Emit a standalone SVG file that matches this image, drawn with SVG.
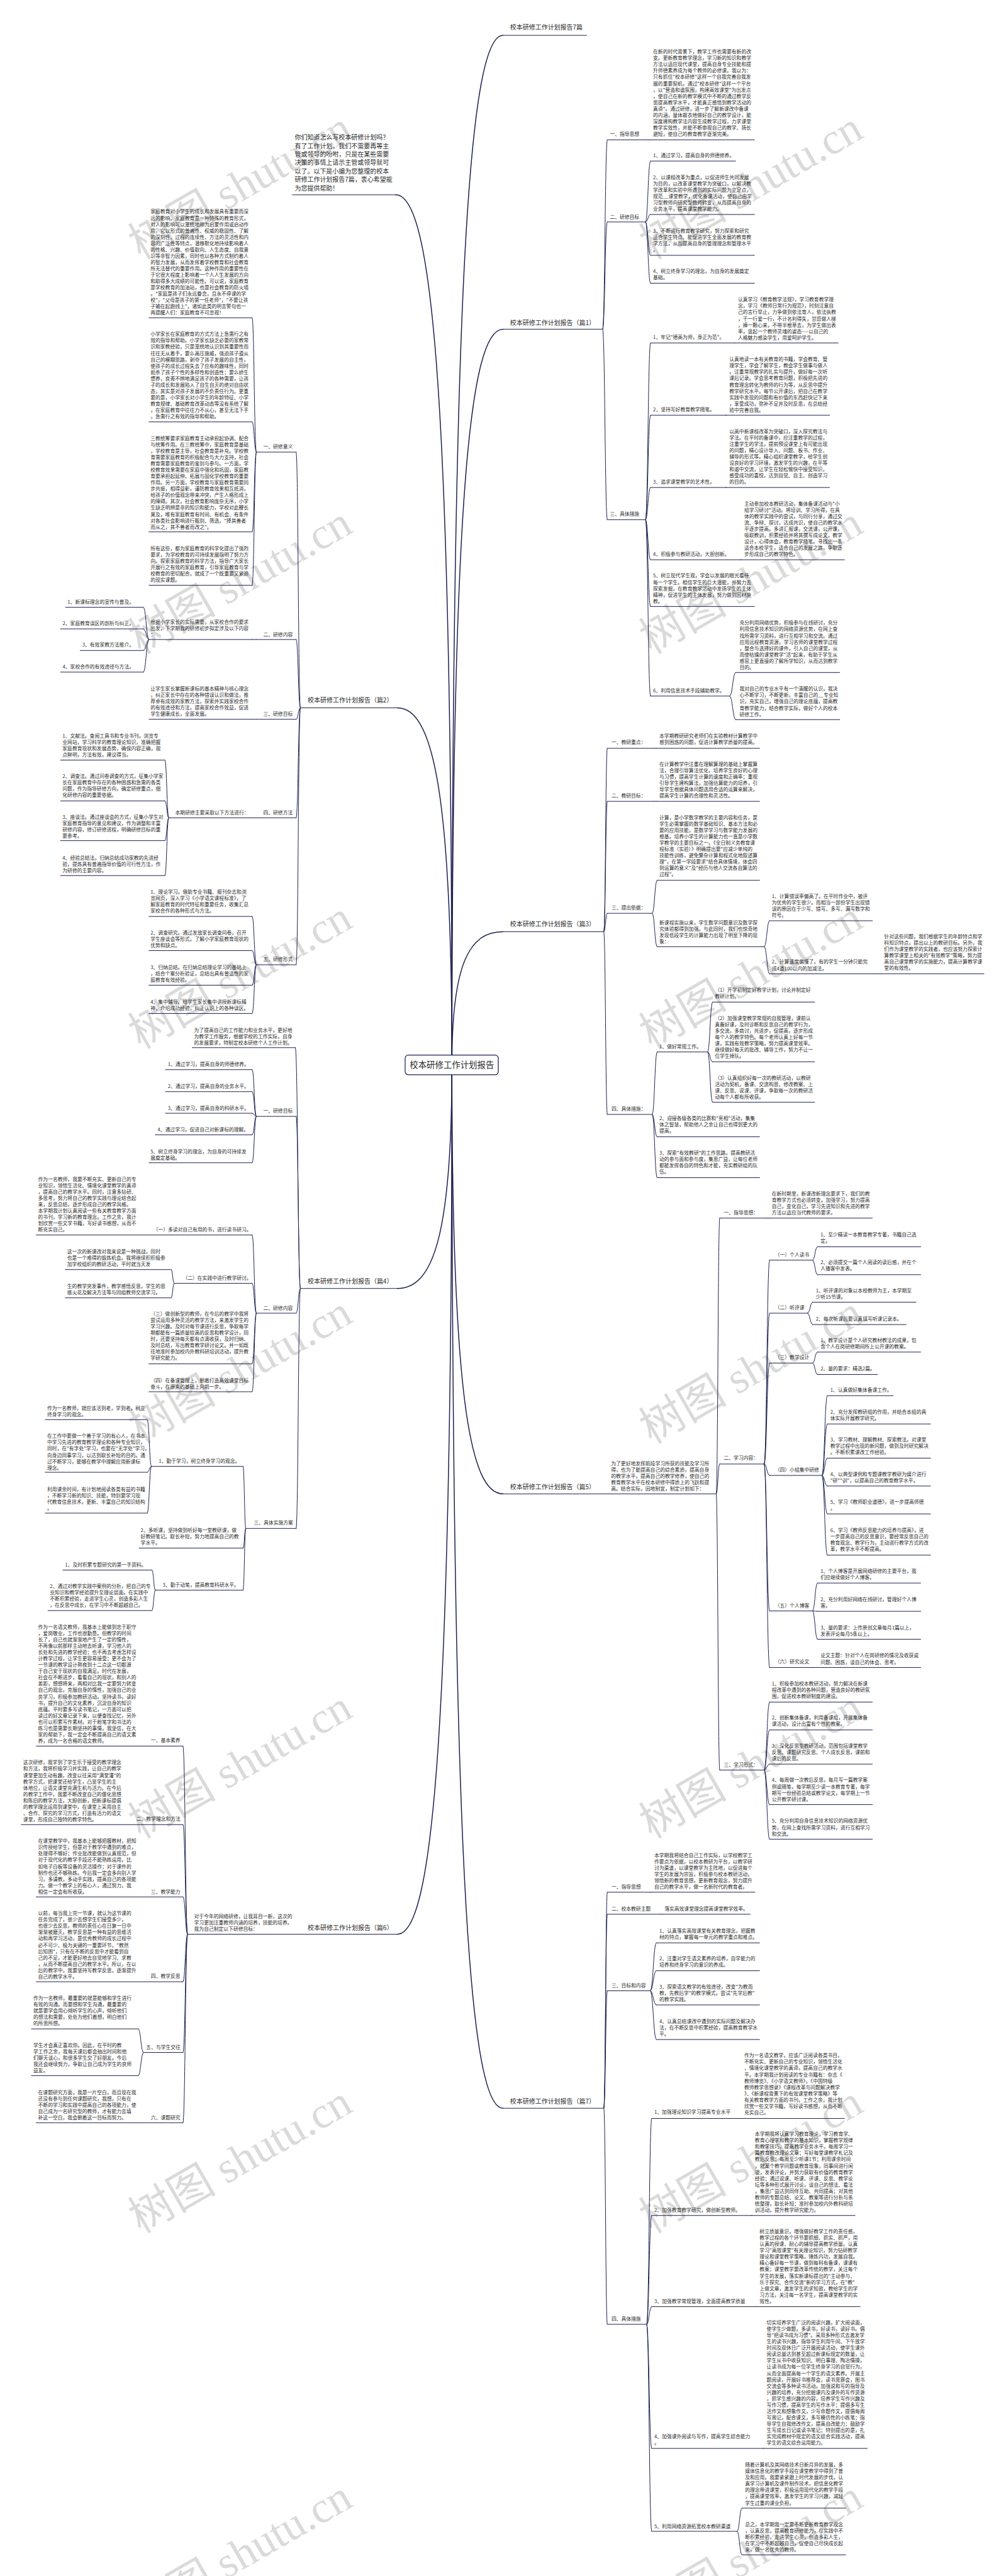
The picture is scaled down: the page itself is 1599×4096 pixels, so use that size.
<svg xmlns="http://www.w3.org/2000/svg" width="1599" height="4096" viewBox="0 0 1599 4096">
<style>
.t{font-family:"Noto Sans CJK SC","Noto Sans",sans-serif;font-size:12.5px;fill:#2b2b2b}
.h{font-size:16px}
.e{text-anchor:end}
.u,.c{stroke:#1d2150;stroke-width:1.6;fill:none;stroke-linecap:round}
.rc{stroke-width:2.4}
.wm{font-family:"Liberation Serif","Noto Sans CJK SC",serif;font-size:112px;fill:#dadada;text-anchor:middle}
</style>
<rect width="1599" height="4096" fill="#fff"/>
<g transform="scale(0.6246)">
<g id="watermarks">
<text class="wm" transform="translate(630 505) rotate(-30)">树图 shutu.cn</text>
<text class="wm" transform="translate(1930 505) rotate(-30)">树图 shutu.cn</text>
<text class="wm" transform="translate(630 1510) rotate(-30)">树图 shutu.cn</text>
<text class="wm" transform="translate(1930 1510) rotate(-30)">树图 shutu.cn</text>
<text class="wm" transform="translate(630 2515) rotate(-30)">树图 shutu.cn</text>
<text class="wm" transform="translate(1930 2515) rotate(-30)">树图 shutu.cn</text>
<text class="wm" transform="translate(630 3520) rotate(-30)">树图 shutu.cn</text>
<text class="wm" transform="translate(1930 3520) rotate(-30)">树图 shutu.cn</text>
<text class="wm" transform="translate(630 4525) rotate(-30)">树图 shutu.cn</text>
<text class="wm" transform="translate(1930 4525) rotate(-30)">树图 shutu.cn</text>
<text class="wm" transform="translate(630 5530) rotate(-30)">树图 shutu.cn</text>
<text class="wm" transform="translate(1930 5530) rotate(-30)">树图 shutu.cn</text>
<text class="wm" transform="translate(630 6535) rotate(-30)">树图 shutu.cn</text>
<text class="wm" transform="translate(1930 6535) rotate(-30)">树图 shutu.cn</text>
</g>
<g id="connectors">
<path class="c rc" d="M1280 90 C1195.5 90 1150 693 1150 2711"/>
<path class="c rc" d="M1280 838 C1195.5 838 1150 1269 1150 2711"/>
<path class="c rc" d="M1280 2372 C1195.5 2372 1150 2450 1150 2711"/>
<path class="c rc" d="M1280 3803 C1195.5 3803 1150 3552 1150 2711"/>
<path class="c rc" d="M1280 5367 C1195.5 5367 1150 4756 1150 2711"/>
<path class="c rc" d="M1007 496 C1100 496 1150 1005 1150 2711"/>
<path class="c rc" d="M1011 1802 C1101 1802 1150 2011 1150 2711"/>
<path class="c rc" d="M1011 3280 C1101 3280 1150 3149 1150 2711"/>
<path class="c rc" d="M1011 4924 C1101 4924 1150 4415 1150 2711"/>
<path class="c" d="M1534 838 C1539.5 838 1539.5 356 1545 356M1534 838 C1539.5 838 1539.5 565 1545 565M1534 838 C1539.5 838 1539.5 1323 1545 1323"/>
<path class="c" d="M1643 356 L1655 356"/>
<path class="c" d="M1643 565 C1649 565 1649 410 1655 410M1643 565 C1649 565 1649 546 1655 546M1643 565 C1649 565 1649 650 1655 650M1643 565 C1649 565 1649 721 1655 721"/>
<path class="c" d="M1643 1323 C1649 1323 1649 873 1655 873M1643 1323 C1649 1323 1649 1057 1655 1057M1643 1323 C1649 1323 1649 1241 1655 1241M1643 1323 C1649 1323 1649 1425 1655 1425M1643 1323 C1649 1323 1649 1544 1655 1544M1643 1323 C1649 1323 1649 1772 1655 1772"/>
<path class="c" d="M1868 873 L1870 873M1846 1057 L1848 1057M1846 1241 L1848 1241M1884 1425 L1886 1425"/>
<path class="c" d="M1857 1772 C1864.5 1772 1864.5 1712 1872 1712M1857 1772 C1864.5 1772 1864.5 1832 1872 1832"/>
<path class="c" d="M1537 2372 C1541 2372 1541 1905 1545 1905M1537 2372 C1541 2372 1541 2040 1545 2040M1537 2372 C1541 2372 1541 2325 1545 2325M1537 2372 C1541 2372 1541 2837 1545 2837"/>
<path class="c" d="M1664 1905 L1670 1905M1664 2040 L1670 2040"/>
<path class="c" d="M1660 2325 C1666 2325 1666 2241 1672 2241M1660 2325 C1666 2325 1666 2410 1672 2410"/>
<path class="c" d="M1945 2410 C1951.5 2410 1951.5 2344 1958 2344M1945 2410 C1951.5 2410 1951.5 2479 1958 2479M2227 2479 L2240 2479"/>
<path class="c" d="M1660 2837 C1666 2837 1666 2678 1672 2678M1660 2837 C1666 2837 1666 2894 1672 2894M1660 2837 C1666 2837 1666 2998 1672 2998"/>
<path class="c" d="M1801 2678 C1807 2678 1807 2551 1813 2551M1801 2678 C1807 2678 1807 2703 1813 2703M1801 2678 C1807 2678 1807 2806 1813 2806"/>
<path class="c" d="M1545 3803 L1549 3803"/>
<path class="c" d="M1823 3803 C1827 3803 1827 3101 1831 3101M1823 3803 C1827 3803 1827 3727 1831 3727M1823 3803 C1827 3803 1827 4506 1831 4506"/>
<path class="c" d="M1949 3101 L1958 3101"/>
<path class="c" d="M1945 3727 C1951.5 3727 1951.5 3208 1958 3208M1945 3727 C1951.5 3727 1951.5 3343 1958 3343M1945 3727 C1951.5 3727 1951.5 3470 1958 3470M1945 3727 C1951.5 3727 1951.5 3756 1958 3756M1945 3727 C1951.5 3727 1951.5 4101 1958 4101M1945 3727 C1951.5 3727 1951.5 4245 1958 4245"/>
<path class="c" d="M2068 3208 C2074 3208 2074 3174 2080 3174M2068 3208 C2074 3208 2074 3245 2080 3245"/>
<path class="c" d="M2055 3343 C2061.5 3343 2061.5 3315 2068 3315M2055 3343 C2061.5 3343 2061.5 3372 2068 3372"/>
<path class="c" d="M2068 3470 C2074 3470 2074 3442 2080 3442M2068 3470 C2074 3470 2074 3499 2080 3499"/>
<path class="c" d="M2092 3756 C2098.5 3756 2098.5 3553 2105 3553M2092 3756 C2098.5 3756 2098.5 3625 2105 3625M2092 3756 C2098.5 3756 2098.5 3712 2105 3712M2092 3756 C2098.5 3756 2098.5 3783 2105 3783M2092 3756 C2098.5 3756 2098.5 3854 2105 3854M2092 3756 C2098.5 3756 2098.5 3959 2105 3959"/>
<path class="c" d="M2068 4101 C2074 4101 2074 4030 2080 4030M2068 4101 C2074 4101 2074 4102 2080 4102M2068 4101 C2074 4101 2074 4173 2080 4173M2068 4245 L2080 4245"/>
<path class="c" d="M1945 4506 C1951.5 4506 1951.5 4333 1958 4333M1945 4506 C1951.5 4506 1951.5 4404 1958 4404M1945 4506 C1951.5 4506 1951.5 4491 1958 4491M1945 4506 C1951.5 4506 1951.5 4594 1958 4594M1945 4506 C1951.5 4506 1951.5 4682 1958 4682"/>
<path class="c" d="M1537 5367 C1541 5367 1541 4817 1545 4817M1537 5367 C1541 5367 1541 4873 1545 4873M1537 5367 C1541 5367 1541 5068 1545 5068M1537 5367 C1541 5367 1541 5917 1545 5917"/>
<path class="c" d="M1655 4817 L1660 4817M1680 4873 L1684 4873"/>
<path class="c" d="M1655 5068 C1662.5 5068 1662.5 4946 1670 4946M1655 5068 C1662.5 5068 1662.5 5017 1670 5017M1655 5068 C1662.5 5068 1662.5 5104 1670 5104M1655 5068 C1662.5 5068 1662.5 5192 1670 5192"/>
<path class="c" d="M1646 5917 C1652 5917 1652 5393 1658 5393M1646 5917 C1652 5917 1652 5640 1658 5640M1646 5917 C1652 5917 1652 5872 1658 5872M1646 5917 C1652 5917 1652 6233 1658 6233M1646 5917 C1652 5917 1652 6444 1658 6444"/>
<path class="c" d="M1884 5393 L1886 5393M1912 5640 L1914 5640M1925 5872 L1927 5872M1942 6233 L1944 6233"/>
<path class="c" d="M1876 6444 C1882 6444 1882 6385 1888 6385M1876 6444 C1882 6444 1882 6504 1888 6504"/>
<path class="c" d="M764 1802 C759 1802 759 1151 754 1151M764 1802 C759 1802 759 1628 754 1628M764 1802 C759 1802 759 1831 754 1831M764 1802 C759 1802 759 2082 754 2082M764 1802 C759 1802 759 2456 754 2456"/>
<path class="c" d="M652 1151 C647 1151 647 809 642 809M652 1151 C647 1151 647 1074 642 1074M652 1151 C647 1151 647 1354 642 1354M652 1151 C647 1151 647 1490 642 1490"/>
<path class="c" d="M652 1628 L642 1628M652 1831 L642 1831M652 2082 L642 2082"/>
<path class="c" d="M379 1628 C372 1628 372 1546 365 1546M379 1628 C372 1628 372 1601 365 1601M379 1628 C372 1628 372 1656 365 1656M379 1628 C372 1628 372 1711 365 1711"/>
<path class="c" d="M429 2082 C424.5 2082 424.5 1935 420 1935M429 2082 C424.5 2082 424.5 2039 420 2039M429 2082 C424.5 2082 424.5 2140 420 2140M429 2082 C424.5 2082 424.5 2229 420 2229"/>
<path class="c" d="M652 2456 C647 2456 647 2333 642 2333M652 2456 C647 2456 647 2420 642 2420M652 2456 C647 2456 647 2508 642 2508M652 2456 C647 2456 647 2580 642 2580"/>
<path class="c" d="M764 3280 C758 3280 758 2667 752 2667M764 3280 C759 3280 759 2842 754 2842M764 3280 C759 3280 759 3343 754 3343M764 3280 C759 3280 759 3891 754 3891"/>
<path class="c" d="M652 2842 C647 2842 647 2723 642 2723M652 2842 C647 2842 647 2779 642 2779M652 2842 C647 2842 647 2834 642 2834M652 2842 C647 2842 647 2889 642 2889M652 2842 C647 2842 647 2960 642 2960"/>
<path class="c" d="M652 3343 C647 3343 647 3144 642 3144M652 3343 C647 3343 647 3267 642 3267M652 3343 C647 3343 647 3472 642 3472M652 3343 C647 3343 647 3543 642 3543"/>
<path class="c" d="M443 3267 C439.5 3267 439.5 3232 436 3232M443 3267 C439.5 3267 439.5 3304 436 3304"/>
<path class="c" d="M625 3891 C622 3891 622 3733 619 3733M625 3891 C622 3891 622 3941 619 3941M625 3891 C622 3891 622 4048 619 4048"/>
<path class="c" d="M385 3733 C380 3733 380 3614 375 3614M385 3733 C380 3733 380 3748 375 3748M385 3733 C380 3733 380 3852 375 3852"/>
<path class="c" d="M395 4048 C391 4048 391 3997 387 3997M395 4048 C391 4048 391 4100 387 4100"/>
<path class="c" d="M764 4924 L754 4924"/>
<path class="c" d="M477 4924 C471.5 4924 471.5 4445 466 4445M477 4924 C471.5 4924 471.5 4645 466 4645M477 4924 C471.5 4924 471.5 4829 466 4829M477 4924 C471.5 4924 471.5 5045 466 5045M477 4924 C471.5 4924 471.5 5225 466 5225M477 4924 C471.5 4924 471.5 5404 466 5404"/>
<path class="c" d="M365 5225 C358.5 5225 358.5 5165 352 5165M365 5225 C358.5 5225 358.5 5284 352 5284"/>
</g>
<g id="root">
<rect x="1031" y="2686" width="237" height="50" rx="8" fill="#fff" stroke="#1d2150" stroke-width="2"/>
<text class="t" x="1150" y="2719" style="font-size:21.5px;text-anchor:middle">校本研修工作计划报告</text>
</g>
<g id="title">
<text class="t h" x="1298" y="76">校本研修工作计划报告7篇</text>
<path class="u" d="M1280 90 H1493"/>
</g>
<g id="p1">
<text class="t h" x="1298" y="827">校本研修工作计划报告（篇1）</text>
<path class="u" d="M1280 838 H1534"/>
</g>
<g id="p1a"><text class="t" x="1552" y="346.5">一、指导思想</text><path class="u" d="M1545 356 H1643"/></g>
<g id="p1a1"><text class="t" x="1662" y="136.5"><tspan x="1662">在新的时代背景下，教学工作也需要有新的改</tspan><tspan x="1662" dy="16.1">变。更新教育教学理念，学习新的知识和教学</tspan><tspan x="1662" dy="16.1">方法以适应现代课堂，提高自身专业技能和提</tspan><tspan x="1662" dy="16.1">升师德素养成为每个教师的必修课。我以为：</tspan><tspan x="1662" dy="16.1">只有抓住"校本研修"这样一个自我完善自我发</tspan><tspan x="1662" dy="16.1">展的重要契机，通过"校本研修"这样一个平台</tspan><tspan x="1662" dy="16.1">，以"营造和谐氛围，构建高效课堂"为出发点</tspan><tspan x="1662" dy="16.1">，使自己在新的教学模式中不断的通过教学反</tspan><tspan x="1662" dy="16.1">思提高教学水平，才能真正感悟到教学活动的</tspan><tspan x="1662" dy="16.1">真谛"。通过研修，进一步了解新课改中备课</tspan><tspan x="1662" dy="16.1">的内涵，量体裁衣地做好自己的教学设计，能</tspan><tspan x="1662" dy="16.1">深度建构教学法内容生成教学过程，力求课堂</tspan><tspan x="1662" dy="16.1">教学实效性，并能不断审视自己的教学、扬长</tspan><tspan x="1662" dy="16.1">避短，使自己的教育教学逐渐完美。</tspan></text><path class="u" d="M1655 356 H1920"/></g>
<g id="p1b"><text class="t" x="1552" y="556.5">二、研修目标</text><path class="u" d="M1545 565 H1643"/></g>
<g id="p1b1"><text class="t" x="1662" y="400.5">1、通过学习，提高自身的师德修养。</text><path class="u" d="M1655 410 H1872"/></g>
<g id="p1b2"><text class="t" x="1662" y="456.5"><tspan x="1662">2、以课程改革为重点，以促进师生共同发展</tspan><tspan x="1662" dy="16.1">为目的，以改革课堂教学为突破口，以解决教</tspan><tspan x="1662" dy="16.1">学改革和实验中所遇到的实际问题为立足点，</tspan><tspan x="1662" dy="16.1">规范__课堂教学，优化备课活动，使自己由学</tspan><tspan x="1662" dy="16.1">习型教师向研究型教师转变，从而提高自身的</tspan><tspan x="1662" dy="16.1">业务水平，提高课堂教学能力。</tspan></text><path class="u" d="M1655 546 H1920"/></g>
<g id="p1b3"><text class="t" x="1662" y="592.5"><tspan x="1662">3、不断进行教育教学研究，努力探索和研究</tspan><tspan x="1662" dy="16.1">适合学生特点、能促进学生全面发展的教育教</tspan><tspan x="1662" dy="16.1">学方法，从而提高自身的管理理念和管理水平</tspan><tspan x="1662" dy="16.1">。</tspan></text><path class="u" d="M1655 650 H1920"/></g>
<g id="p1b4"><text class="t" x="1662" y="695.5"><tspan x="1662">4、树立终身学习的理念，为自身的发展奠定</tspan><tspan x="1662" dy="16.1">基础。</tspan></text><path class="u" d="M1655 721 H1920"/></g>
<g id="p1c"><text class="t" x="1552" y="1313.5">三、具体措施</text><path class="u" d="M1545 1323 H1643"/></g>
<g id="p1c1"><text class="t" x="1662" y="863.5">1、牢记"德高为师，身正为范"。</text><path class="u" d="M1655 873 H1868"/></g>
<g id="p1c1a"><text class="t" x="1878" y="767.5"><tspan x="1878">认真学习《教育教学法规》，学习教育教学理</tspan><tspan x="1878" dy="16.1">念，学习《教师日常行为规范》，时刻注意自</tspan><tspan x="1878" dy="16.1">己的言行举止，力争做到依法育人，依法执教</tspan><tspan x="1878" dy="16.1">，干一行爱一行，不计名利得失，甘愿做人梯</tspan><tspan x="1878" dy="16.1">，捧一颗心来，不带半根草去，为学生做出表</tspan><tspan x="1878" dy="16.1">率，竖起一个教师灵魂的姿态----以自己的</tspan><tspan x="1878" dy="16.1">人格魅力感染学生，用爱呵护学生。</tspan></text><path class="u" d="M1870 873 H2133"/></g>
<g id="p1c2"><text class="t" x="1662" y="1047.5">2、坚持写好教育教学随笔。</text><path class="u" d="M1655 1057 H1846"/></g>
<g id="p1c2a"><text class="t" x="1856" y="919.5"><tspan x="1856">认真地读一本有关教育的书籍，学会教育、管</tspan><tspan x="1856" dy="16.1">理学生，学会了解学生，教会学生做事与做人</tspan><tspan x="1856" dy="16.1">。注重常规教学的扎实与提升，做好每一次听</tspan><tspan x="1856" dy="16.1">课后记录。学会思考教育问题，积极把先进的</tspan><tspan x="1856" dy="16.1">教育理念转化为教师的行为等，从反思中提升</tspan><tspan x="1856" dy="16.1">教学研究水平。每节公开课后，把自己在教学</tspan><tspan x="1856" dy="16.1">实践中发现的问题和有价值的东西赶快记下来</tspan><tspan x="1856" dy="16.1">，享受成功，弥补不足并及时反思，在总结经</tspan><tspan x="1856" dy="16.1">验中完善自我。</tspan></text><path class="u" d="M1848 1057 H2111"/></g>
<g id="p1c3"><text class="t" x="1662" y="1231.5">3、追求课堂教学的艺术性。</text><path class="u" d="M1655 1241 H1846"/></g>
<g id="p1c3a"><text class="t" x="1856" y="1102.5"><tspan x="1856">以高中新课程改革为突破口，深入探究教法与</tspan><tspan x="1856" dy="16.1">学法。在平时的备课中，应注重教学的过程，</tspan><tspan x="1856" dy="16.1">注重学生的学法，提前预设课堂上有可能出现</tspan><tspan x="1856" dy="16.1">的问题，精心设计导入、问题、板书、作业、</tspan><tspan x="1856" dy="16.1">辅导的形式等。精心组织课堂教学，给学生创</tspan><tspan x="1856" dy="16.1">设良好的学习环境，激发学生的兴趣，在平等</tspan><tspan x="1856" dy="16.1">和谐中交流，让学生在轻松愉快中接受知识，</tspan><tspan x="1856" dy="16.1">感受成功的喜悦，达到自觉、自主、创造学习</tspan><tspan x="1856" dy="16.1">的目的。</tspan></text><path class="u" d="M1848 1241 H2111"/></g>
<g id="p1c4"><text class="t" x="1662" y="1415.5">4、积极参与教研活动，大胆创新。</text><path class="u" d="M1655 1425 H1884"/></g>
<g id="p1c4a"><text class="t" x="1894" y="1286.5"><tspan x="1894">主动参加校本教研活动，集体备课活动与"小</tspan><tspan x="1894" dy="16.1">组学习研讨"活动。将培训、学习所得，在具</tspan><tspan x="1894" dy="16.1">体的教学实践中的尝试，与同行分享，通过交</tspan><tspan x="1894" dy="16.1">流、争辩、探讨，达成共识，使自己的教学水</tspan><tspan x="1894" dy="16.1">平逐步提高。多讲汇报课，交流课，公开课，</tspan><tspan x="1894" dy="16.1">吸取教训，积累经验并将其撰写成论文，教学</tspan><tspan x="1894" dy="16.1">设计，心得体会，教育教学随笔。寻找出一条</tspan><tspan x="1894" dy="16.1">适合本校学生，适合自己的发展之路，争取逐</tspan><tspan x="1894" dy="16.1">步形成自己的教学特色。</tspan></text><path class="u" d="M1886 1425 H2149"/></g>
<g id="p1c5"><text class="t" x="1662" y="1470.5"><tspan x="1662">5、树立现代学生观，学会以发展的眼光看待</tspan><tspan x="1662" dy="16.1">每一个学生。相信学生的巨大潜能，并努力去</tspan><tspan x="1662" dy="16.1">探索发掘，在教育教学活动中发扬学生的主体</tspan><tspan x="1662" dy="16.1">精神，促进学生的主体发展，努力做到因材施</tspan><tspan x="1662" dy="16.1">教。</tspan></text><path class="u" d="M1655 1544 H1920"/></g>
<g id="p1c6"><text class="t" x="1662" y="1763.5">6、利用信息技术手段辅助教学。</text><path class="u" d="M1655 1772 H1857"/></g>
<g id="p1c6a"><text class="t" x="1882" y="1590.5"><tspan x="1882">充分利用网络优势，积极参与在线研讨，充分</tspan><tspan x="1882" dy="16.1">利用信息技术知识的网络资源优势，在网上查</tspan><tspan x="1882" dy="16.1">找所需学习资料，进行互相学习和交流。通过</tspan><tspan x="1882" dy="16.1">应用远程教育资源，学习名师的课堂教学过程</tspan><tspan x="1882" dy="16.1">，整合与选择好的课件，引入自己的课堂，从</tspan><tspan x="1882" dy="16.1">而使枯燥的课堂教学"活"起来，有助于学生从</tspan><tspan x="1882" dy="16.1">感官上更直接的了解所学知识，从而达到教学</tspan><tspan x="1882" dy="16.1">目的。</tspan></text><path class="u" d="M1872 1712 H2137"/></g>
<g id="p1c6b"><text class="t" x="1882" y="1758.5"><tspan x="1882">我对自己的专业水平有一个清醒的认识，我决</tspan><tspan x="1882" dy="16.1">心不断学习，不断更新，丰富自己的__专业知</tspan><tspan x="1882" dy="16.1">识，充实自己，增强自己的理论底蕴，提高教</tspan><tspan x="1882" dy="16.1">育教学能力，结合教学实际，做好个人的校本</tspan><tspan x="1882" dy="16.1">研修工作。</tspan></text><path class="u" d="M1872 1832 H2137"/></g>

<g id="p3"><text class="t h" x="1298" y="2359">校本研修工作计划报告（篇3）</text><path class="u" d="M1280 2372 H1537"/></g>
<g id="p3a"><text class="t" x="1556" y="1894.5">一、教研重点：</text><path class="u" d="M1545 1905 H1664"/></g>
<g id="p3a1"><text class="t" x="1678" y="1878.5"><tspan x="1678">本学期教研研究老师们在实验教材计算教学中</tspan><tspan x="1678" dy="16.1">感到困惑的问题，促进计算教学质量的提高。</tspan></text><path class="u" d="M1670 1905 H1933"/></g>
<g id="p3b"><text class="t" x="1556" y="2030.5">二、教研目标：</text><path class="u" d="M1545 2040 H1664"/></g>
<g id="p3b1"><text class="t" x="1678" y="1949.5"><tspan x="1678">在计算教学中注重在理解算理的基础上掌握算</tspan><tspan x="1678" dy="16.1">法，合理引导算法优化，培养学生良好的心理</tspan><tspan x="1678" dy="16.1">与习惯，提高学生计算的速度和正确率；重视</tspan><tspan x="1678" dy="16.1">引导学生建构算法，加强估算能力的培养，引</tspan><tspan x="1678" dy="16.1">导学生根据具体问题选用合适的运算来解决，</tspan><tspan x="1678" dy="16.1">提高学生计算的合理性和灵活性。</tspan></text><path class="u" d="M1670 2040 H1933"/></g>
<g id="p3c"><text class="t" x="1556" y="2315.5">三、提出依据：</text><path class="u" d="M1545 2325 H1660"/></g>
<g id="p3c1"><text class="t" x="1678" y="2085.5"><tspan x="1678">计算，是小学数学教学的主要内容和任务，是</tspan><tspan x="1678" dy="16.1">学生必需掌握的数学基础知识、基本方法和必</tspan><tspan x="1678" dy="16.1">要的应用技能，是数学学习与数学能力发展的</tspan><tspan x="1678" dy="16.1">根基。培养小学生的计算能力也一直是小学数</tspan><tspan x="1678" dy="16.1">学教学的主要目标之一。《全日制义务教育课</tspan><tspan x="1678" dy="16.1">程标准（实验）》明确提出要"应减少单纯的</tspan><tspan x="1678" dy="16.1">技能性训练，避免繁杂计算和程式化地叙述算</tspan><tspan x="1678" dy="16.1">理"，在第一学段要求"结合具体情境，体会四</tspan><tspan x="1678" dy="16.1">则运算的意义"及"经历与他人交流各自算法的</tspan><tspan x="1678" dy="16.1">过程"。</tspan></text><path class="u" d="M1672 2241 H1933"/></g>
<g id="p3c2"><text class="t" x="1678" y="2353.5"><tspan x="1678">新课程实施以来，学生数学问题意识及数学探</tspan><tspan x="1678" dy="16.1">究体验都得到加强。与此同时，我们也惊奇地</tspan><tspan x="1678" dy="16.1">发现低段学生的计算能力出现了明显下降的现</tspan><tspan x="1678" dy="16.1">象：</tspan></text><path class="u" d="M1672 2410 H1945"/></g>
<g id="p3c2a"><text class="t" x="1964" y="2285.5"><tspan x="1964">1、计算错误率偏高了。在平时作业中，被评</tspan><tspan x="1964" dy="16.1">为优秀的学生很少。而相当一部份学生出现错</tspan><tspan x="1964" dy="16.1">误的原因在于少写、错写、多写、漏写数字和</tspan><tspan x="1964" dy="16.1">符号。</tspan></text><path class="u" d="M1958 2344 H2220"/></g>
<g id="p3c2b"><text class="t" x="1964" y="2453.5"><tspan x="1964">2、计算速度偏慢了。有的学生一分钟只能完</tspan><tspan x="1964" dy="16.1">成4道100以内的加减法。</tspan></text><path class="u" d="M1958 2479 H2227"/></g>
<g id="p3c2b1"><text class="t" x="2250" y="2388.5"><tspan x="2250">针对这些问题，我们根据学生的年龄特点和学</tspan><tspan x="2250" dy="16.1">科知识特点，提出以上的教研目标。另外，我</tspan><tspan x="2250" dy="16.1">们作为课堂教学的实践者，也应该努力探索计</tspan><tspan x="2250" dy="16.1">算教学课堂上相关的"有效教学"策略，努力提</tspan><tspan x="2250" dy="16.1">高自己课堂教学的实施能力，提高计算教学课</tspan><tspan x="2250" dy="16.1">堂的有效性。</tspan></text><path class="u" d="M2240 2479 H2504"/></g>
<g id="p3d"><text class="t" x="1556" y="2827.5">四、具体措施：</text><path class="u" d="M1545 2837 H1660"/></g>
<g id="p3d1"><text class="t" x="1678" y="2668.5">1、做好常规工作。</text><path class="u" d="M1672 2678 H1801"/></g>
<g id="p3d1a"><text class="t" x="1819" y="2525.5"><tspan x="1819">（1）开学初制定好教学计划，讨论并制定好</tspan><tspan x="1819" dy="16.1">教研计划。</tspan></text><path class="u" d="M1813 2551 H2073"/></g>
<g id="p3d1b"><text class="t" x="1819" y="2596.5"><tspan x="1819">（2）加强课堂教学常规的自我管理，课前认</tspan><tspan x="1819" dy="16.1">真备好课，及时诊断和反思自己的教学行为，</tspan><tspan x="1819" dy="16.1">多交流，多商讨，共进步，促提高，逐步形成</tspan><tspan x="1819" dy="16.1">每个人的教学特色。每个老师认真上好每一节</tspan><tspan x="1819" dy="16.1">课，实践有效教学策略，努力提高课堂效率。</tspan><tspan x="1819" dy="16.1">继续做好每天的批改、辅导工作，努力不让一</tspan><tspan x="1819" dy="16.1">位学生掉队。</tspan></text><path class="u" d="M1813 2703 H2073"/></g>
<g id="p3d1c"><text class="t" x="1819" y="2748.5"><tspan x="1819">（3）认真组织好每一次的教研活动，以教研</tspan><tspan x="1819" dy="16.1">活动为契机，备课、交流构思、修改教案、上</tspan><tspan x="1819" dy="16.1">课、反思、说课、评课，争取每一次的教研活</tspan><tspan x="1819" dy="16.1">动每个人都有所收获。</tspan></text><path class="u" d="M1813 2806 H2073"/></g>
<g id="p3d2"><text class="t" x="1678" y="2851.5"><tspan x="1678">2、迎接各级各类的比赛和"亮相"活动，集集</tspan><tspan x="1678" dy="16.1">体之智慧，帮助他人之余让自己也得到更大的</tspan><tspan x="1678" dy="16.1">提高。</tspan></text><path class="u" d="M1672 2894 H1933"/></g>
<g id="p3d3"><text class="t" x="1678" y="2939.5"><tspan x="1678">3、探索"有效教研"的工作思路，提高教研活</tspan><tspan x="1678" dy="16.1">动的参与面和参与度，集思广益，让每位老师</tspan><tspan x="1678" dy="16.1">都能发挥各自的特色和才能，充实教研组的队</tspan><tspan x="1678" dy="16.1">伍。</tspan></text><path class="u" d="M1672 2998 H1933"/></g>

<g id="p5"><text class="t h" x="1298" y="3791">校本研修工作计划报告（篇5）</text><path class="u" d="M1280 3803 H1545"/></g>
<g id="p5i"><text class="t" x="1555" y="3730.5"><tspan x="1555">为了更好地发挥前段学习所获的技能及学习所</tspan><tspan x="1555" dy="16.1">得，也为了能提高自己的综合素质，提高自身</tspan><tspan x="1555" dy="16.1">的教学水平，提高自己的教学修养，使自己的</tspan><tspan x="1555" dy="16.1">教育教学水平在校本研修中得质上的飞跃和提</tspan><tspan x="1555" dy="16.1">高。结合实际，因地制宜，制定计划如下：</tspan></text><path class="u" d="M1549 3803 H1823"/></g>
<g id="p5a"><text class="t" x="1842" y="3091.5">一、指导思想：</text><path class="u" d="M1831 3101 H1949"/></g>
<g id="p5a1"><text class="t" x="1964" y="3043.5"><tspan x="1964">在新时期里，新课改新理念要求下，我们的教</tspan><tspan x="1964" dy="16.1">育教学方式也必须转变。加强学习，努力提高</tspan><tspan x="1964" dy="16.1">自己，变化自己，学习先进知识和先进的教学</tspan><tspan x="1964" dy="16.1">方法以适应当代教师的要求。</tspan></text><path class="u" d="M1958 3101 H2220"/></g>
<g id="p5b"><text class="t" x="1842" y="3716.5">二、学习内容：</text><path class="u" d="M1831 3727 H1945"/></g>
<g id="p5b1"><text class="t" x="1972" y="3199.5">（一）个人读书</text><path class="u" d="M1958 3208 H2068"/></g>
<g id="p5b1a"><text class="t" x="2088" y="3147.5"><tspan x="2088">1、至少精读一本教育教学专著，书籍自己选</tspan><tspan x="2088" dy="16.1">定。</tspan></text><path class="u" d="M2080 3174 H2343"/></g>
<g id="p5b1b"><text class="t" x="2088" y="3218.5"><tspan x="2088">2、必须提交一篇个人阅读的读后感，并在个</tspan><tspan x="2088" dy="16.1">人播客中发表。</tspan></text><path class="u" d="M2080 3245 H2343"/></g>
<g id="p5b2"><text class="t" x="1972" y="3333.5">（二）听评课</text><path class="u" d="M1958 3343 H2055"/></g>
<g id="p5b2a"><text class="t" x="2076" y="3290.5"><tspan x="2076">1、听评课的对象以本校教师为主，本学期至</tspan><tspan x="2076" dy="16.1">少听15节课。</tspan></text><path class="u" d="M2068 3315 H2331"/></g>
<g id="p5b2b"><text class="t" x="2076" y="3362.5">2、每次听课后要认真填写听课记录本。</text><path class="u" d="M2068 3372 H2306"/></g>
<g id="p5b3"><text class="t" x="1972" y="3460.5">（三）教学设计</text><path class="u" d="M1958 3470 H2068"/></g>
<g id="p5b3a"><text class="t" x="2088" y="3416.5"><tspan x="2088">1、教学设计是个人研究教材教法的成果，包</tspan><tspan x="2088" dy="16.1">含个人在岗研修期间所上公开课的教案。</tspan></text><path class="u" d="M2080 3442 H2343"/></g>
<g id="p5b3b"><text class="t" x="2088" y="3488.5">2、量的要求：精选2篇。</text><path class="u" d="M2080 3499 H2233"/></g>
<g id="p5b4"><text class="t" x="1972" y="3746.5">（四）小组集中研修</text><path class="u" d="M1958 3756 H2092"/></g>
<g id="p5b4a"><text class="t" x="2113" y="3543.5">1、认真做好集体备课工作。</text><path class="u" d="M2105 3553 H2273"/></g>
<g id="p5b4b"><text class="t" x="2113" y="3599.5"><tspan x="2113">2、充分发挥教研组的作用，并结合本组的具</tspan><tspan x="2113" dy="16.1">体实际开展教学研究。</tspan></text><path class="u" d="M2105 3625 H2368"/></g>
<g id="p5b4c"><text class="t" x="2113" y="3669.5"><tspan x="2113">3、学习教材、理解教材、探索教法。对课堂</tspan><tspan x="2113" dy="16.1">教学过程中出现的新问题，做到及时研究解决</tspan><tspan x="2113" dy="16.1">。不断积累课改工作经验。</tspan></text><path class="u" d="M2105 3712 H2368"/></g>
<g id="p5b4d"><text class="t" x="2113" y="3757.5"><tspan x="2113">4、以典型课例和专题课教学教研为媒介进行</tspan><tspan x="2113" dy="16.1">"研""训"，以提高自己的教育教学水平。</tspan></text><path class="u" d="M2105 3783 H2368"/></g>
<g id="p5b4e"><text class="t" x="2113" y="3828.5"><tspan x="2113">5、学习《教师职业道德》，进一步提高师德</tspan><tspan x="2113" dy="16.1">。</tspan></text><path class="u" d="M2105 3854 H2368"/></g>
<g id="p5b4f"><text class="t" x="2113" y="3900.5"><tspan x="2113">6、学习《教师反思能力的培养与提高》，进</tspan><tspan x="2113" dy="16.1">一步提高自己的反思意识，要经常反思自己的</tspan><tspan x="2113" dy="16.1">教育观念、教学行为，主动进行教学方式的改</tspan><tspan x="2113" dy="16.1">革，教学水平不断提高。</tspan></text><path class="u" d="M2105 3959 H2368"/></g>
<g id="p5b5"><text class="t" x="1972" y="4091.5">（五）个人博客</text><path class="u" d="M1958 4101 H2068"/></g>
<g id="p5b5a"><text class="t" x="2088" y="4004.5"><tspan x="2088">1、个人博客是开展网络研修的主要平台，我</tspan><tspan x="2088" dy="16.1">们应继续做好个人博客。</tspan></text><path class="u" d="M2080 4030 H2343"/></g>
<g id="p5b5b"><text class="t" x="2088" y="4076.5"><tspan x="2088">2、充分利用好网络在线研讨，管理好个人博</tspan><tspan x="2088" dy="16.1">客。</tspan></text><path class="u" d="M2080 4102 H2343"/></g>
<g id="p5b5c"><text class="t" x="2088" y="4147.5"><tspan x="2088">3、量的要求：上传原创文章每月1篇以上，</tspan><tspan x="2088" dy="16.1">发表评论每月5条以上。</tspan></text><path class="u" d="M2080 4173 H2343"/></g>
<g id="p5b6"><text class="t" x="1972" y="4235.5">（六）研究论文</text><path class="u" d="M1958 4245 H2068"/></g>
<g id="p5b6a"><text class="t" x="2088" y="4219.5"><tspan x="2088">论文主题：针对个人在岗研修的情况及收获或</tspan><tspan x="2088" dy="16.1">问题、困惑，谈自己的体会、思考。</tspan></text><path class="u" d="M2080 4245 H2343"/></g>
<g id="p5c"><text class="t" x="1842" y="4496.5">三、学习形式：</text><path class="u" d="M1831 4506 H1945"/></g>
<g id="p5c1"><text class="t" x="1964" y="4290.5"><tspan x="1964">1、积极参加校本教研活动，努力解决在新课</tspan><tspan x="1964" dy="16.1">程改革中遇到的各种问题，营造良好的教研氛</tspan><tspan x="1964" dy="16.1">围，促进校本教研制度的建设。</tspan></text><path class="u" d="M1958 4333 H2220"/></g>
<g id="p5c2"><text class="t" x="1964" y="4377.5"><tspan x="1964">2、创新集体备课，利用备课组，开展集体备</tspan><tspan x="1964" dy="16.1">课活动，设计出富有个性的教案。</tspan></text><path class="u" d="M1958 4404 H2220"/></g>
<g id="p5c3"><text class="t" x="1964" y="4449.5"><tspan x="1964">3、深化反思型教研活动，范围包括课堂教学</tspan><tspan x="1964" dy="16.1">反思、课题研究反思、个人成长反思，课前和</tspan><tspan x="1964" dy="16.1">课后的反思。</tspan></text><path class="u" d="M1958 4491 H2220"/></g>
<g id="p5c4"><text class="t" x="1964" y="4536.5"><tspan x="1964">4、每周做一次教后反思，每月写一篇教学案</tspan><tspan x="1964" dy="16.1">例或随笔，每学期至少读一本教育专著，每学</tspan><tspan x="1964" dy="16.1">期写一份经验总结或教学论文，每学期上一节</tspan><tspan x="1964" dy="16.1">公开教学研讨课。</tspan></text><path class="u" d="M1958 4594 H2220"/></g>
<g id="p5c5"><text class="t" x="1964" y="4640.5"><tspan x="1964">5、充分利用自身信息技术知识的网络资源优</tspan><tspan x="1964" dy="16.1">势，在网上查找所需学习资料，进行互相学习</tspan><tspan x="1964" dy="16.1">和交流。</tspan></text><path class="u" d="M1958 4682 H2220"/></g>

<g id="p7"><text class="t h" x="1298" y="5355">校本研修工作计划报告（篇7）</text><path class="u" d="M1280 5367 H1537"/></g>
<g id="p7a"><text class="t" x="1556" y="4807.5">一、指导思想</text><path class="u" d="M1545 4817 H1655"/></g>
<g id="p7a1"><text class="t" x="1665" y="4727.5"><tspan x="1665">本学期我将结合自己工作实际，以学校教学工</tspan><tspan x="1665" dy="16.1">作要点为依据，以校本教研为平台，以教学研</tspan><tspan x="1665" dy="16.1">讨为渠道，以课堂教学为主阵地，以促进每个</tspan><tspan x="1665" dy="16.1">学生的发展为宗旨，积极参与校本教研活动，</tspan><tspan x="1665" dy="16.1">领悟新的教育思想，更新教育观念，努力提升</tspan><tspan x="1665" dy="16.1">自己的教学水平，做一名新时代的教育者。</tspan></text><path class="u" d="M1660 4817 H1921"/></g>
<g id="p7b"><text class="t" x="1556" y="4863.5">二、校本教研主题</text><path class="u" d="M1545 4873 H1680"/></g>
<g id="p7b1"><text class="t" x="1691" y="4863.5">落实高效课堂理念提高课堂教学效率。</text><path class="u" d="M1684 4873 H1909"/></g>
<g id="p7c"><text class="t" x="1556" y="5058.5">三、目标和内容</text><path class="u" d="M1545 5068 H1655"/></g>
<g id="p7c1"><text class="t" x="1678" y="4920.5"><tspan x="1678">1、认真落实高效课堂有关教育理念，把握教</tspan><tspan x="1678" dy="16.1">材的特点，掌握每一单元的教学重点和难点。</tspan></text><path class="u" d="M1670 4946 H1933"/></g>
<g id="p7c2"><text class="t" x="1678" y="4990.5"><tspan x="1678">2、注重对学生语文素养的培养，自学能力的</tspan><tspan x="1678" dy="16.1">培养和终身学习的意识的养成。</tspan></text><path class="u" d="M1670 5017 H1933"/></g>
<g id="p7c3"><text class="t" x="1678" y="5062.5"><tspan x="1678">3、探索语文教学的有效途径，改变"为教而</tspan><tspan x="1678" dy="16.1">教，先教后学"的教学模式，尝试"先学后教"</tspan><tspan x="1678" dy="16.1">的教学实践。</tspan></text><path class="u" d="M1670 5104 H1933"/></g>
<g id="p7c4"><text class="t" x="1678" y="5150.5"><tspan x="1678">4、认真总结课改中遇到的实际问题及解决办</tspan><tspan x="1678" dy="16.1">法，在不断反思中积累经验，提高教育教学水</tspan><tspan x="1678" dy="16.1">平。</tspan></text><path class="u" d="M1670 5192 H1933"/></g>
<g id="p7d"><text class="t" x="1556" y="5908.5">四、具体措施</text><path class="u" d="M1545 5917 H1646"/></g>
<g id="p7d1"><text class="t" x="1665" y="5381.5">1、加强理论知识学习提高专业水平</text><path class="u" d="M1658 5393 H1884"/></g>
<g id="p7d1a"><text class="t" x="1894" y="5237.5"><tspan x="1894">作为一名语文教学，应该广泛阅读各类书目，</tspan><tspan x="1894" dy="16.1">不断充实、更新自己的专业知识，领悟生活化</tspan><tspan x="1894" dy="16.1">、情境化课堂教学的真谛，提高自己的教学水</tspan><tspan x="1894" dy="16.1">平。本学期我计划阅读的专业书籍有：杂志《</tspan><tspan x="1894" dy="16.1">教师博览》、《小学语文教师》，《中国特级</tspan><tspan x="1894" dy="16.1">教师教学思想录》《课程改革与问题解决教学</tspan><tspan x="1894" dy="16.1">》、《新课程背景下的有效课堂教学策略》等</tspan><tspan x="1894" dy="16.1">有关教育教学方面的书刊，工作之余，我计划</tspan><tspan x="1894" dy="16.1">欣赏一些文学书籍，写好读书感想，从而不断</tspan><tspan x="1894" dy="16.1">充实自己。</tspan></text><path class="u" d="M1886 5393 H2149"/></g>
<g id="p7d2"><text class="t" x="1665" y="5630.5">2、加强教育教学研究，做创新型教师。</text><path class="u" d="M1658 5640 H1912"/></g>
<g id="p7d2a"><text class="t" x="1921" y="5437.5"><tspan x="1921">本学期我将认真学习教育理论，学习教育学、</tspan><tspan x="1921" dy="16.1">教育心理学和教学的基本知识，掌握教学规律</tspan><tspan x="1921" dy="16.1">和教学技巧，提高教学业务水平。每周学习一</tspan><tspan x="1921" dy="16.1">篇教育教改理论文章；写好每堂课教学札记及</tspan><tspan x="1921" dy="16.1">教后反思；每周至少听课1节；利用课余时间</tspan><tspan x="1921" dy="16.1">，就某个教学问题或教育现象，同事间进行闲</tspan><tspan x="1921" dy="16.1">谈，发表评论，并努力获取有价值的教育教学</tspan><tspan x="1921" dy="16.1">经验；通过说课、听课、评课、反思、教学论</tspan><tspan x="1921" dy="16.1">坛等多种形式展开讨论，谈自己的想法、看法</tspan><tspan x="1921" dy="16.1">，集思广益达到同伴互助、共同提高；对其他</tspan><tspan x="1921" dy="16.1">教师的专题总结、论文、教案等进行分析与系</tspan><tspan x="1921" dy="16.1">统整理，取长补短；准时参加校内外教科研培</tspan><tspan x="1921" dy="16.1">训活动，提升教学研究能力。</tspan></text><path class="u" d="M1914 5640 H2176"/></g>
<g id="p7d3"><text class="t" x="1665" y="5863.5">3、加强教学常规管理，全面提高教学质量</text><path class="u" d="M1658 5872 H1925"/></g>
<g id="p7d3a"><text class="t" x="1933" y="5685.5"><tspan x="1933">树立质量意识，增强做好教学工作的责任感，</tspan><tspan x="1933" dy="16.1">教学过程的各个环节要抓细、抓实、抓严，用</tspan><tspan x="1933" dy="16.1">认真的授课、耐心的辅导提高教学质量。认真</tspan><tspan x="1933" dy="16.1">学习"高效课堂"有关理论知识，努力钻研教学</tspan><tspan x="1933" dy="16.1">理论和课堂教学策略，锤炼内功，发展自我。</tspan><tspan x="1933" dy="16.1">精心备好每一节课，做到每科有备课，课课有</tspan><tspan x="1933" dy="16.1">教案；课堂教学要改革传统的教学，关注每个</tspan><tspan x="1933" dy="16.1">学生的发展，落实新课标提出的"主动参与、</tspan><tspan x="1933" dy="16.1">乐于探究、合作交流"新的学习方式，在"教"</tspan><tspan x="1933" dy="16.1">上做文章，激发学生的求知欲，教给学生的学</tspan><tspan x="1933" dy="16.1">习方法，关注每一名学生，提高课堂教学的实</tspan><tspan x="1933" dy="16.1">效性。</tspan></text><path class="u" d="M1927 5872 H2189"/></g>
<g id="p7d4"><text class="t" x="1665" y="6207.5"><tspan x="1665">4、加强课外阅读与写作，提高学生综合能力</tspan><tspan x="1665" dy="16.1">。</tspan></text><path class="u" d="M1658 6233 H1942"/></g>
<g id="p7d4a"><text class="t" x="1951" y="5917.5"><tspan x="1951">切实培养学生广泛的阅读兴趣，扩大阅读面，</tspan><tspan x="1951" dy="16.1">使学生少做题，多读书，好读书，读好书。倡</tspan><tspan x="1951" dy="16.1">导"把读书成为习惯"。采用多种形式去激发学</tspan><tspan x="1951" dy="16.1">生的读书兴趣，指导学生利用午间、下午放学</tspan><tspan x="1951" dy="16.1">时间及双休日广泛开展阅读活动，使学生课外</tspan><tspan x="1951" dy="16.1">阅读总量达到甚至超过新课标规定的数量，让</tspan><tspan x="1951" dy="16.1">学生从书中收获知识、明白事理、陶冶情操，</tspan><tspan x="1951" dy="16.1">让读书成为每一位学生终身学习的自觉行为，</tspan><tspan x="1951" dy="16.1">从而全面提高每一个学生的语文素养。开展主</tspan><tspan x="1951" dy="16.1">题阅读，开展好书推荐会，读书竞赛会，图书</tspan><tspan x="1951" dy="16.1">交流会等多种读书活动。加强说和写的指导及</tspan><tspan x="1951" dy="16.1">兴趣的培养，充分挖掘课内及课外的写作资源</tspan><tspan x="1951" dy="16.1">，抓学生感兴趣的内容，培养学生写作兴趣及</tspan><tspan x="1951" dy="16.1">写作习惯，提高学生的写作水平；提倡多写生</tspan><tspan x="1951" dy="16.1">活作文和想象作文，少写命题作文，提倡每周</tspan><tspan x="1951" dy="16.1">写周记，配合课文，多写模仿性的小练笔；指</tspan><tspan x="1951" dy="16.1">导学生自我修改作文，提高自改能力；鼓励学</tspan><tspan x="1951" dy="16.1">生写成长日记或读书笔记；特别提出的是，扎</tspan><tspan x="1951" dy="16.1">实完成教材中规定的语文综合实践活动，提高</tspan><tspan x="1951" dy="16.1">学生的语文综合运用能力。</tspan></text><path class="u" d="M1944 6233 H2207"/></g>
<g id="p7d5"><text class="t" x="1665" y="6435.5">5、利用网络资源拓宽校本教研渠道</text><path class="u" d="M1658 6444 H1876"/></g>
<g id="p7d5a"><text class="t" x="1896" y="6279.5"><tspan x="1896">随着计算机及其网络技术日新月异的发展，多</tspan><tspan x="1896" dy="16.1">媒体信息化的教学手段在课堂教学中得到了普</tspan><tspan x="1896" dy="16.1">及和应用。我要紧紧跟上时代发展的步伐，认</tspan><tspan x="1896" dy="16.1">真学习计算机及课件制作技术，把信息化教学</tspan><tspan x="1896" dy="16.1">的理念带进课堂，积极运用现代化的教学手段</tspan><tspan x="1896" dy="16.1">，提高课堂效率，激发学生的学习兴趣，减轻</tspan><tspan x="1896" dy="16.1">学生过重的课业负担。</tspan></text><path class="u" d="M1888 6385 H2152"/></g>
<g id="p7d5b"><text class="t" x="1896" y="6431.5"><tspan x="1896">总之，本学期我一定要不断更新教育教学观念</tspan><tspan x="1896" dy="16.1">，认真反思，提高教育研修能力，在实践中不</tspan><tspan x="1896" dy="16.1">断积累经验，走进学生心灵，创造多彩人生，</tspan><tspan x="1896" dy="16.1">在学习中不断超越自己，促使自己尽快成长起</tspan><tspan x="1896" dy="16.1">来，做一名优秀的教师。</tspan></text><path class="u" d="M1888 6504 H2152"/></g>

<g id="intro"><text class="t h" x="750" y="356"><tspan x="750">你们知道怎么写校本研修计划吗？</tspan><tspan x="750" dy="21.4">有了工作计划，我们不需要再等主</tspan><tspan x="750" dy="21.4">管或领导的吩咐，只是在某些需要</tspan><tspan x="750" dy="21.4">决策的事情上请示主管或领导就可</tspan><tspan x="750" dy="21.4">以了。以下是小编为您整理的校本</tspan><tspan x="750" dy="21.4">研修工作计划报告7篇，衷心希望能</tspan><tspan x="750" dy="21.4">为您提供帮助！</tspan></text><path class="u" d="M744 496 H1007"/></g>

<g id="q2"><text class="t h" x="783" y="1789">校本研修工作计划报告（篇2）</text><path class="u" d="M764 1802 H1011"/></g>
<g id="q2a"><text class="t" x="670" y="1141.5">一、研修意义</text><path class="u" d="M652 1151 H754"/></g>
<g id="q2a1"><text class="t" x="383" y="543.5"><tspan x="383">家庭教育对小学生的成长和发展具有重要而深</tspan><tspan x="383" dy="16.1">远的影响。家庭教育是一种特殊的教育形式，</tspan><tspan x="383" dy="16.1">对人的影响可以笼统地称为启蒙作用或启动作</tspan><tspan x="383" dy="16.1">用，它以形式的普遍性、权威的稳固性、了解</tspan><tspan x="383" dy="16.1">的深刻性、过程的连续性、方法的灵活性和内</tspan><tspan x="383" dy="16.1">容的广泛性等特点，潜移默化地持续影响着人</tspan><tspan x="383" dy="16.1">的性格、兴趣、价值取向、人生态度、自我意</tspan><tspan x="383" dy="16.1">识等非智力因素，同时也以各种方式制约着人</tspan><tspan x="383" dy="16.1">的智力发展，从而发挥着学校教育和社会教育</tspan><tspan x="383" dy="16.1">所无法替代的重要作用。这种作用的重要性在</tspan><tspan x="383" dy="16.1">于它很大程度上影响着一个人人生发展的方向</tspan><tspan x="383" dy="16.1">和取得多大成绩的可能性。可以说，家庭教育</tspan><tspan x="383" dy="16.1">是学校教育的加油站，也是社会教育的防火墙</tspan><tspan x="383" dy="16.1">。"家庭是孩子们永远眷恋，且永不停课的学</tspan><tspan x="383" dy="16.1">校"，"父母是孩子的第一任老师"，"不要让孩</tspan><tspan x="383" dy="16.1">子输在起跑线上"，诸如此类的明言警句也一</tspan><tspan x="383" dy="16.1">再提醒人们：家庭教育不可忽视！</tspan></text><path class="u" d="M379 809 H642"/></g>
<g id="q2a2"><text class="t" x="383" y="855.5"><tspan x="383">小学家长在家庭教育的方式方法上急需行之有</tspan><tspan x="383" dy="16.1">效的指导和帮助。小学家长缺乏必要的家教常</tspan><tspan x="383" dy="16.1">识和家教经验，只是笼统地认识到其重要性而</tspan><tspan x="383" dy="16.1">往往无从着手，要么高压施威，强迫孩子遵从</tspan><tspan x="383" dy="16.1">自己的模糊思路，剥夺了孩子发展的自主性，</tspan><tspan x="383" dy="16.1">使孩子的成长过程失去了应有的趣味性，同时</tspan><tspan x="383" dy="16.1">扼杀了孩子个性的多样性和创造性；要么娇生</tspan><tspan x="383" dy="16.1">惯养，良莠不辨地满足孩子的各种需要，让孩</tspan><tspan x="383" dy="16.1">子的成长和发展陷入了自生自灭的绝对自由状</tspan><tspan x="383" dy="16.1">态，其实是对孩子发展的不负责任行为。更重</tspan><tspan x="383" dy="16.1">要的是，小学家长对小学生的年龄特征、小学</tspan><tspan x="383" dy="16.1">教育规律、基础教育改革动态等没有系统了解</tspan><tspan x="383" dy="16.1">，在家庭教育中往往力不从心，甚至无法下手</tspan><tspan x="383" dy="16.1">，急需行之有效的指导和帮助。</tspan></text><path class="u" d="M379 1074 H642"/></g>
<g id="q2a3"><text class="t" x="383" y="1120.5"><tspan x="383">三教统筹要求家庭教育主动承担起协调、配合</tspan><tspan x="383" dy="16.1">与统筹作用。在三教统筹中，家庭教育是基础</tspan><tspan x="383" dy="16.1">，学校教育是主导，社会教育是补充。学校教</tspan><tspan x="383" dy="16.1">育需要家庭教育的积极配合与大力支持，社会</tspan><tspan x="383" dy="16.1">教育需要家庭教育的鉴别与参与。一方面，学</tspan><tspan x="383" dy="16.1">校教育效果需要在家庭中强化和巩固，家庭教</tspan><tspan x="383" dy="16.1">育要承担起延伸、拓展与固化学校教育的重要</tspan><tspan x="383" dy="16.1">作用。另一方面，学校教育与家庭教育需要同</tspan><tspan x="383" dy="16.1">步共振，相得益彰，谨防教育效果相互抵消，</tspan><tspan x="383" dy="16.1">给孩子的价值观念带来冲突，产生人格形成上</tspan><tspan x="383" dy="16.1">的障碍。其次，社会教育影响庞杂无序，小学</tspan><tspan x="383" dy="16.1">生缺乏明辨是非的知识和能力，学校对此鞭长</tspan><tspan x="383" dy="16.1">莫及，唯有家庭教育有时间、有机会、有条件</tspan><tspan x="383" dy="16.1">对各类社会影响进行甄别、筛选，"择其善者</tspan><tspan x="383" dy="16.1">而从之，其不善者而改之"。</tspan></text><path class="u" d="M379 1354 H642"/></g>
<g id="q2a4"><text class="t" x="383" y="1400.5"><tspan x="383">所有这些，都为家庭教育的科学化提出了强烈</tspan><tspan x="383" dy="16.1">要求，为学校教育的可持续发展指明了努力方</tspan><tspan x="383" dy="16.1">向。探索家庭教育的科学方法，指导广大家长</tspan><tspan x="383" dy="16.1">开展行之有效的家庭教育，引导家庭教育与学</tspan><tspan x="383" dy="16.1">校教育的密切配合，就成了一个既重要又紧迫</tspan><tspan x="383" dy="16.1">的现实课题。</tspan></text><path class="u" d="M379 1490 H642"/></g>
<g id="q2b"><text class="t" x="670" y="1619.5">二、研修内容</text><path class="u" d="M652 1628 H754"/></g>
<g id="q2b1"><text class="t" x="383" y="1587.5"><tspan x="383">根据小学家长的实际需要，从家校合作的要求</tspan><tspan x="383" dy="16.1">出发，下学期我的研修初步拟定涉及以下内容</tspan><tspan x="383" dy="16.1">：</tspan></text><path class="u" d="M379 1628 H642"/></g>
<g id="q2b1a"><text class="t e" x="341" y="1536.5">1、新课标理念的宣传与普及。</text><path class="u" d="M167 1546 H365"/></g>
<g id="q2b1b"><text class="t e" x="341" y="1591.5">2、家庭教育误区的剖析与纠正。</text><path class="u" d="M154 1601 H365"/></g>
<g id="q2b1c"><text class="t e" x="341" y="1646.5">3、有效家教方法推介。</text><path class="u" d="M204 1656 H365"/></g>
<g id="q2b1d"><text class="t e" x="341" y="1702.5">4、家校合作的有效途径与方法。</text><path class="u" d="M154 1711 H365"/></g>
<g id="q2c"><text class="t" x="670" y="1822.5">三、研修目标</text><path class="u" d="M652 1831 H754"/></g>
<g id="q2c1"><text class="t" x="383" y="1757.5"><tspan x="383">让学生家长掌握新课标的基本精神与核心理念</tspan><tspan x="383" dy="16.1">，纠正家长中存在的各种错误认识和做法，推</tspan><tspan x="383" dy="16.1">荐卓有成效的家教方法，探索并实践家校合作</tspan><tspan x="383" dy="16.1">的有效途径和方法，提高家校合作效益，促进</tspan><tspan x="383" dy="16.1">学生健康成长，全面发展。</tspan></text><path class="u" d="M379 1831 H642"/></g>
<g id="q2d"><text class="t" x="670" y="2073.5">四、研修方法</text><path class="u" d="M652 2082 H754"/></g>
<g id="q2d1"><text class="t" x="446" y="2073.5">本期研修主要采取以下方法进行：</text><path class="u" d="M429 2082 H642"/></g>
<g id="q2d1a"><text class="t" x="159" y="1877.5"><tspan x="159">1、文献法。查阅工具书和专业书刊，浏览专</tspan><tspan x="159" dy="16.1">业网站，学习科学的教育理论知识，准确把握</tspan><tspan x="159" dy="16.1">家庭教育现状和发展态势，确保内容正确，观</tspan><tspan x="159" dy="16.1">点鲜明，方法有效，建议得当。</tspan></text><path class="u" d="M154 1935 H420"/></g>
<g id="q2d1b"><text class="t" x="159" y="1980.5"><tspan x="159">2、调查法。通过问卷调查的方式，征集小学家</tspan><tspan x="159" dy="16.1">长在家庭教育中存在的各种困惑和急需的各类</tspan><tspan x="159" dy="16.1">问题，作为指导研修方向，确定研修重点，细</tspan><tspan x="159" dy="16.1">化研修内容的重要依据。</tspan></text><path class="u" d="M154 2039 H420"/></g>
<g id="q2d1c"><text class="t" x="159" y="2084.5"><tspan x="159">3、座谈法。通过座谈会的方式，征集小学生对</tspan><tspan x="159" dy="16.1">家庭教育指导的意见和建议，作为调整和丰富</tspan><tspan x="159" dy="16.1">研修内容，修订研修进程，明确研修目标的重</tspan><tspan x="159" dy="16.1">要参考。</tspan></text><path class="u" d="M154 2140 H420"/></g>
<g id="q2d1d"><text class="t" x="159" y="2188.5"><tspan x="159">4、经验总结法。归纳总结成功家教的先进经</tspan><tspan x="159" dy="16.1">验，提炼具有普遍指导价值的可行性方法，作</tspan><tspan x="159" dy="16.1">为研修的主要内容。</tspan></text><path class="u" d="M154 2229 H420"/></g>
<g id="q2e"><text class="t" x="670" y="2446.5">五、研修形式</text><path class="u" d="M652 2456 H754"/></g>
<g id="q2e1"><text class="t" x="383" y="2275.5"><tspan x="383">1、理论学习。借助专业书籍、报刊杂志和浏</tspan><tspan x="383" dy="16.1">览网页，深入学习《小学语文课程标准》，了</tspan><tspan x="383" dy="16.1">解家庭教育的时代特征和重要任务，收集汇总</tspan><tspan x="383" dy="16.1">家校合作的各种形式与方法。</tspan></text><path class="u" d="M379 2333 H642"/></g>
<g id="q2e2"><text class="t" x="383" y="2379.5"><tspan x="383">2、调查研究。通过发放家长调查问卷，召开</tspan><tspan x="383" dy="16.1">学生座谈会等形式，了解小学家庭教育现状的</tspan><tspan x="383" dy="16.1">优势和缺点。</tspan></text><path class="u" d="M379 2420 H642"/></g>
<g id="q2e3"><text class="t" x="383" y="2466.5"><tspan x="383">3、归纳总结。在归纳总结理论学习的基础上</tspan><tspan x="383" dy="16.1">，结合个案分析验证，总结出具有普适性的家</tspan><tspan x="383" dy="16.1">庭教育有效经验。</tspan></text><path class="u" d="M379 2508 H642"/></g>
<g id="q2e4"><text class="t" x="383" y="2554.5"><tspan x="383">4、集中辅导。给学生家长集中讲授新课标精</tspan><tspan x="383" dy="16.1">神，介绍成功经验，纠正认识上的各种误区。</tspan></text><path class="u" d="M379 2580 H642"/></g>

<g id="q4"><text class="t h" x="783" y="3267">校本研修工作计划报告（篇4）</text><path class="u" d="M764 3280 H1011"/></g>
<g id="q4i"><text class="t" x="494" y="2626.5"><tspan x="494">为了提高自己的工作能力和业务水平，更好地</tspan><tspan x="494" dy="16.1">为教学工作服务，根据学校的工作实际，自身</tspan><tspan x="494" dy="16.1">的发展要求，特制定校本研修个人工作计划。</tspan></text><path class="u" d="M489 2667 H752"/></g>
<g id="q4a"><text class="t" x="670" y="2832.5">一、研修目标</text><path class="u" d="M652 2842 H754"/></g>
<g id="q4a1"><text class="t" x="427" y="2714.5">1、通过学习，提高自身的师德修养。</text><path class="u" d="M421 2723 H642"/></g>
<g id="q4a2"><text class="t" x="427" y="2769.5">2、通过学习，提高自身的业务水平。</text><path class="u" d="M421 2779 H642"/></g>
<g id="q4a3"><text class="t" x="427" y="2825.5">3、通过学习，提高自身的科研水平。</text><path class="u" d="M421 2834 H642"/></g>
<g id="q4a4"><text class="t" x="401" y="2880.5">4、通过学习，促进自己对新课标的理解。</text><path class="u" d="M395 2889 H642"/></g>
<g id="q4a5"><text class="t" x="383" y="2935.5"><tspan x="383">5、树立终身学习的理念，为自身的可持续发</tspan><tspan x="383" dy="16.1">展奠定基础。</tspan></text><path class="u" d="M379 2960 H642"/></g>
<g id="q4b"><text class="t" x="670" y="3334.5">二、研修内容</text><path class="u" d="M652 3343 H754"/></g>
<g id="q4b1"><text class="t" x="390" y="3135.5">（一）多读对自己有用的书，进行读书研习。</text><path class="u" d="M92 3144 H642"/></g>
<g id="q4b1a"><text class="t" x="97" y="3006.5"><tspan x="97">作为一名教师，我要不断充实、更新自己的专</tspan><tspan x="97" dy="16.1">业知识，领悟生活化、情境化课堂教学的真谛</tspan><tspan x="97" dy="16.1">，提高自己的教学水平。同时，注意多钻研、</tspan><tspan x="97" dy="16.1">多思考，努力将自己的教学实践与理论结合起</tspan><tspan x="97" dy="16.1">来，反思总结，逐步形成自己的教学风格。</tspan><tspan x="97" dy="16.1">本学期我计划认真阅读一些有关教育教学方面</tspan><tspan x="97" dy="16.1">的书刊，学习新的教育理念。工作之余，我计</tspan><tspan x="97" dy="16.1">划欣赏一些文学书籍，写好读书感想，从而不</tspan><tspan x="97" dy="16.1">断充实自己。</tspan></text></g>
<g id="q4b2"><text class="t" x="465" y="3258.5">（二）在实践中进行教学研讨。</text><path class="u" d="M443 3267 H642"/></g>
<g id="q4b2a"><text class="t" x="171" y="3190.5"><tspan x="171">这一次的新课改对我来说是一种挑战，同时</tspan><tspan x="171" dy="16.1">也是一个难得的锻炼机会。我将继续积积极参</tspan><tspan x="171" dy="16.1">加学校组织的教研活动，平时就当天发</tspan></text><path class="u" d="M166 3232 H436"/></g>
<g id="q4b2b"><text class="t" x="171" y="3278.5"><tspan x="171">生的教学突发事件，教学感悟反思，学生的思</tspan><tspan x="171" dy="16.1">维火花及解决方法等与同组教师交流学习。</tspan></text><path class="u" d="M166 3304 H436"/></g>
<g id="q4b3"><text class="t" x="383" y="3349.5"><tspan x="383">（三）做创新型的教师，在今后的教学中我将</tspan><tspan x="383" dy="16.1">尝试运用多种灵活的教学方法，来激发学生的</tspan><tspan x="383" dy="16.1">学习兴趣。及时对每节课进行反思，争取每学</tspan><tspan x="383" dy="16.1">期都能有一篇质量较高的反思和教学设计，同</tspan><tspan x="383" dy="16.1">时，还要坚持每天都有点滴收获，及时归纳、</tspan><tspan x="383" dy="16.1">及时总结，写出教育教学研讨论文。并一如既</tspan><tspan x="383" dy="16.1">往地准时参加校内外教科研培训活动，提升教</tspan><tspan x="383" dy="16.1">学研究能力。</tspan></text><path class="u" d="M379 3472 H642"/></g>
<g id="q4b4"><text class="t" x="383" y="3518.5"><tspan x="383">（四）在备课管理上，朝着打造高效课堂目标</tspan><tspan x="383" dy="16.1">奋斗，在原来的基础上向前一步。</tspan></text><path class="u" d="M379 3543 H642"/></g>
<g id="q4c"><text class="t" x="646" y="3881.5">三、具体实施方案</text><path class="u" d="M625 3891 H754"/></g>
<g id="q4c1"><text class="t" x="404" y="3724.5">1、勤于学习，树立终身学习的观念。</text><path class="u" d="M385 3733 H619"/></g>
<g id="q4c1a"><text class="t" x="120" y="3589.5"><tspan x="120">作为一名教师，就应该活到老，学到老，树立</tspan><tspan x="120" dy="16.1">终身学习的观念。</tspan></text><path class="u" d="M115 3614 H375"/></g>
<g id="q4c1b"><text class="t" x="120" y="3660.5"><tspan x="120">在工作中要做一个善于学习的有心人，在书本</tspan><tspan x="120" dy="16.1">中学习先进的教育教学理论和各种专业知识，</tspan><tspan x="120" dy="16.1">同时，在"有字处"学习，也要在"无字处"学习，</tspan><tspan x="120" dy="16.1">向身边同事学习，以达到取长补短的目的。通</tspan><tspan x="120" dy="16.1">过不断学习，能够在教学中理解应用新课标</tspan><tspan x="120" dy="16.1">理念。</tspan></text><path class="u" d="M115 3748 H375"/></g>
<g id="q4c1c"><text class="t" x="120" y="3796.5"><tspan x="120">利用课余时间，有计划地阅读各类有益的书籍</tspan><tspan x="120" dy="16.1">，不断学习新的知识、技能，特别要学习现</tspan><tspan x="120" dy="16.1">代教育信息技术，更新、丰富自己的知识结构</tspan><tspan x="120" dy="16.1">。</tspan></text><path class="u" d="M115 3852 H375"/></g>
<g id="q4c2"><text class="t" x="358" y="3900.5"><tspan x="358">2、多听课，坚持做到听好每一堂教研课，做</tspan><tspan x="358" dy="16.1">好教研笔记。取长补短，努力地提高自己的教</tspan><tspan x="358" dy="16.1">学水平。</tspan></text><path class="u" d="M354 3941 H619"/></g>
<g id="q4c3"><text class="t" x="414" y="4039.5">3、勤于动笔，提高教育科研水平。</text><path class="u" d="M395 4048 H619"/></g>
<g id="q4c3a"><text class="t e" x="372" y="3987.5">1、及时积累专题研究的第一手资料。</text><path class="u" d="M160 3997 H387"/></g>
<g id="q4c3b"><text class="t" x="127" y="4042.5"><tspan x="127">2、通过对教学实践中案例的分析，把自己的专</tspan><tspan x="127" dy="16.1">业知识和教学经验提升至理论层面。在实践中</tspan><tspan x="127" dy="16.1">不断积累经验，走进学生心灵，创造多彩人生</tspan><tspan x="127" dy="16.1">，在反思中成长，在学习中不断超越自己。</tspan></text><path class="u" d="M122 4100 H387"/></g>

<g id="q6"><text class="t h" x="783" y="4913">校本研修工作计划报告（篇6）</text><path class="u" d="M764 4924 H1011"/></g>
<g id="q6i"><text class="t" x="494" y="4883.5"><tspan x="494">对于今年的网络研修，让我耳目一新，这次的</tspan><tspan x="494" dy="16.1">学习更加注重教师内涵的培养，技能的培养。</tspan><tspan x="494" dy="16.1">我为自己制定以下研修目标：</tspan></text><path class="u" d="M477 4924 H754"/></g>
<g id="q6a"><text class="t" x="384" y="4435.5">一、基本素养</text><path class="u" d="M92 4445 H466"/></g>
<g id="q6a1"><text class="t" x="97" y="4146.5"><tspan x="97">作为一名语文教师，我基本上能做到忠于职守</tspan><tspan x="97" dy="16.1">，爱岗敬业，工作也很勤恳。但教学的时间</tspan><tspan x="97" dy="16.1">长了，自己也就渐渐地产生了一定的惰性，</tspan><tspan x="97" dy="16.1">不再像以前那样主动地去听课，学习他人的</tspan><tspan x="97" dy="16.1">长处和先进的教学经验；也不再去考虑怎样设</tspan><tspan x="97" dy="16.1">计教学过程，让学生更容易接受；更不会为了</tspan><tspan x="97" dy="16.1">一节课的教学设计熬夜到十二点这一切都源</tspan><tspan x="97" dy="16.1">于自己安于现状的自我满足。时代在发展，</tspan><tspan x="97" dy="16.1">社会在不断进步，看看自己的现状，和别人的</tspan><tspan x="97" dy="16.1">差距，想想将来，两相对比我一定要努力转变</tspan><tspan x="97" dy="16.1">自己的观念，克服自身的惰性，加强自己的业</tspan><tspan x="97" dy="16.1">务学习，积极参加教研活动。坚持读书，读好</tspan><tspan x="97" dy="16.1">书，提升自己的文化素养，沉淀自身的知识</tspan><tspan x="97" dy="16.1">底蕴。平时要多写读书笔记，一方面可以把</tspan><tspan x="97" dy="16.1">读过的好文章记录下来，以便查找记忆，另外</tspan><tspan x="97" dy="16.1">也可以积累写作素材。对于粉笔字和书法的</tspan><tspan x="97" dy="16.1">练习也是需要长期坚持的事情，我坚信，在大</tspan><tspan x="97" dy="16.1">家的帮助下，我一定会不断提高自己的语文素</tspan><tspan x="97" dy="16.1">养，成为一名合格的语文教师。</tspan></text></g>
<g id="q6b"><text class="t" x="347" y="4635.5">二、教学理念和方法</text><path class="u" d="M54 4645 H466"/></g>
<g id="q6b1"><text class="t" x="59" y="4491.5"><tspan x="59">这次研修，我学到了学生乐于接受的教学理念</tspan><tspan x="59" dy="16.1">和方法，我将积极学习并实践，让自己的教学</tspan><tspan x="59" dy="16.1">课堂更加生动有趣，改变以往采用"满堂灌"的</tspan><tspan x="59" dy="16.1">教学方式，把课堂还给学生，凸显学生的主</tspan><tspan x="59" dy="16.1">体地位，让语文课堂充满生机与活力。在今后</tspan><tspan x="59" dy="16.1">的教学工作中，我要不断改变自己的僵化思想</tspan><tspan x="59" dy="16.1">和陈旧的教学方法，大胆创新，把新课标提倡</tspan><tspan x="59" dy="16.1">的教学理念运用到课堂中，在课堂上采用自主</tspan><tspan x="59" dy="16.1">、合作、探究的学习方式，打造有活力的语文</tspan><tspan x="59" dy="16.1">课堂，形成自己独特的教学特色。</tspan></text></g>
<g id="q6c"><text class="t" x="384" y="4820.5">三、教学能力</text><path class="u" d="M92 4829 H466"/></g>
<g id="q6c1"><text class="t" x="97" y="4691.5"><tspan x="97">在课堂教学中，我基本上能够把握教材，把知</tspan><tspan x="97" dy="16.1">识传授给学生，但是对于教学中遇到的难点，</tspan><tspan x="97" dy="16.1">处理得不够好；作业批改能做到认真规范，但</tspan><tspan x="97" dy="16.1">对于现代化的教学手段还不能熟练运用，比</tspan><tspan x="97" dy="16.1">如电子白板等设备的灵活操作；对于课件的</tspan><tspan x="97" dy="16.1">制作也还不够熟练。今后我一定会多向别人学</tspan><tspan x="97" dy="16.1">习，多请教，多动手实践，提高自己的各项能</tspan><tspan x="97" dy="16.1">力。做一个教学上的有心人，通过努力，我</tspan><tspan x="97" dy="16.1">相信一定会有所收获。</tspan></text></g>
<g id="q6d"><text class="t" x="384" y="5035.5">四、教学反思</text><path class="u" d="M92 5045 H466"/></g>
<g id="q6d1"><text class="t" x="97" y="4875.5"><tspan x="97">以前，每当我上完一节课，就认为这节课的</tspan><tspan x="97" dy="16.1">任务完成了，很少去想学生们接受多少，</tspan><tspan x="97" dy="16.1">也很少去反思，教师的责任心在日复一日中</tspan><tspan x="97" dy="16.1">渐渐被磨灭。教学反思是一种有益的思维活</tspan><tspan x="97" dy="16.1">动和再学习活动，是优秀教师的成长过程中</tspan><tspan x="97" dy="16.1">必不可少、极为关键的一重要环节，"教然</tspan><tspan x="97" dy="16.1">后知困"，只有在不断的反思中才能看到自</tspan><tspan x="97" dy="16.1">己的不足，才能更好地去自觉地学习、求教</tspan><tspan x="97" dy="16.1">，从而不断提高自己的教学水平。所以，在以</tspan><tspan x="97" dy="16.1">后的教学中，我要坚持写教学反思，逐渐提升</tspan><tspan x="97" dy="16.1">自己的教学水平。</tspan></text></g>
<g id="q6e"><text class="t" x="372" y="5215.5">五、与学生交往</text><path class="u" d="M365 5225 H466"/></g>
<g id="q6e1"><text class="t" x="85" y="5091.5"><tspan x="85">作为一名教师，最重要的就是能够和学生进行</tspan><tspan x="85" dy="16.1">有效的沟通。而要想和学生沟通，最重要的</tspan><tspan x="85" dy="16.1">就是要学会用心倾听学生的心声，倾听他们</tspan><tspan x="85" dy="16.1">的想法和需要，处处为他们着想，明白他们</tspan><tspan x="85" dy="16.1">的所思所想。</tspan></text><path class="u" d="M80 5165 H352"/></g>
<g id="q6e2"><text class="t" x="85" y="5211.5"><tspan x="85">学生才会真正喜欢你。因此，在平时的教</tspan><tspan x="85" dy="16.1">学工作之余，我每天课后都会抽出时间和他</tspan><tspan x="85" dy="16.1">们聊天谈心，和很多学生交了好朋友。今后</tspan><tspan x="85" dy="16.1">我还会继续努力，争取让自己成为学生的良师</tspan><tspan x="85" dy="16.1">益友。</tspan></text><path class="u" d="M80 5284 H352"/></g>
<g id="q6f"><text class="t" x="384" y="5395.5">六、课题研究</text><path class="u" d="M92 5404 H466"/></g>
<g id="q6f1"><text class="t" x="97" y="5331.5"><tspan x="97">在课题研究方面，我是一片空白，而且现在我</tspan><tspan x="97" dy="16.1">还没有参与到任何课题研究，我想，只有在</tspan><tspan x="97" dy="16.1">不断的学习和实践中提高自己的各项能力，使</tspan><tspan x="97" dy="16.1">自己成为一名研究型的教师，才有能力去填</tspan><tspan x="97" dy="16.1">补这一空白，我会朝着这一目标而努力。</tspan></text></g>
</g>
</svg>
